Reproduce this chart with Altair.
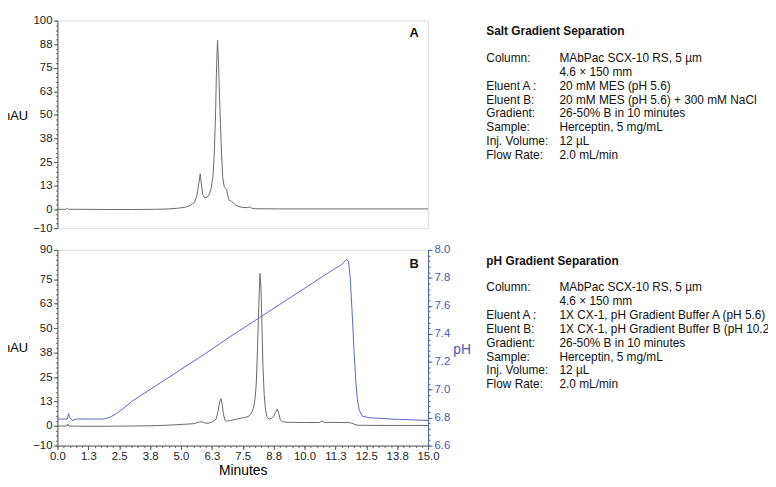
import altair as alt
import pandas as pd

# ---------------- data ----------------
salt_time = [0.0, 0.35, 0.4, 0.45, 1.0, 2.0, 3.0, 4.0, 4.5, 4.9,
             5.2, 5.4, 5.55, 5.65, 5.72, 5.78, 5.83, 5.88, 5.95, 6.05,
             6.15, 6.23, 6.3, 6.35, 6.4, 6.44, 6.48, 6.52, 6.56, 6.6,
             6.64, 6.69, 6.75, 6.8, 6.85, 6.9, 6.95, 7.05, 7.2, 7.35,
             7.5, 7.7, 7.8, 7.86, 8.0, 9.0, 12.0, 15.0]
salt_mau = [0.0, 0.0, 0.5, 0.0, 0.0, -0.1, -0.1, 0.0, 0.2, 0.6,
            1.2, 2.2, 3.8, 7.5, 13.5, 18.8, 13.0, 8.0, 6.3, 6.3,
            8.0, 11.5, 18.0, 30.0, 50.0, 75.0, 89.5, 78.0, 60.0, 45.0,
            30.0, 17.0, 12.0, 11.0, 10.5, 7.0, 4.8, 4.2, 2.4, 1.4,
            1.0, 0.9, 1.3, 0.6, 0.3, 0.2, 0.2, 0.2]

uv_time = [0.0, 0.38, 0.42, 0.46, 1.0, 2.0, 3.0, 4.0, 4.6, 5.0,
           5.5, 5.75, 5.85, 5.95, 6.1, 6.3, 6.42, 6.5, 6.57, 6.62,
           6.67, 6.72, 6.78, 6.85, 7.0, 7.2, 7.4, 7.6, 7.75, 7.85,
           7.93, 8.0, 8.05, 8.1, 8.15, 8.2, 8.24, 8.28, 8.32, 8.37,
           8.42, 8.48, 8.56, 8.65, 8.75, 8.83, 8.9, 8.96, 9.02, 9.1,
           9.3, 10.0, 10.6, 10.7, 10.8, 11.5, 11.85, 12.0, 12.15, 13.0,
           15.0]
uv_mau = [0.0, 0.0, 1.0, 0.0, -0.1, -0.1, 0.0, 0.2, 0.5, 0.8,
          1.2, 2.0, 2.2, 1.6, 1.4, 2.3, 3.5, 7.5, 12.5, 14.0,
          11.0, 6.0, 3.0, 2.5, 2.8, 3.4, 3.9, 4.4, 5.0, 6.5,
          9.0, 14.0, 22.0, 40.0, 62.0, 78.0, 70.0, 50.0, 30.0, 16.0,
          8.5, 4.8, 3.6, 3.8, 5.0, 7.0, 8.6, 6.5, 3.2, 2.2,
          1.9, 1.8, 1.8, 2.5, 1.9, 1.8, 1.7, 1.0, 0.4, 0.3,
          0.3]

ph_time = [0.0, 0.4, 0.45, 0.5, 0.6, 0.8, 1.5, 1.85, 2.1, 2.4,
           2.7, 3.0, 4.0, 5.0, 6.0, 7.0, 8.0, 9.0, 10.0, 11.0,
           11.5, 11.7, 11.78, 11.85, 11.92, 12.0, 12.07, 12.14, 12.22, 12.35,
           12.6, 13.5, 15.0]
ph_value = [6.79, 6.79, 6.83, 6.80, 6.78, 6.79, 6.79, 6.79, 6.80, 6.83,
            6.87, 6.915, 7.03, 7.145, 7.26, 7.38, 7.495, 7.61, 7.725, 7.84,
            7.895, 7.93, 7.92, 7.80, 7.58, 7.30, 7.08, 6.93, 6.85, 6.81,
            6.80, 6.79, 6.78]

# axis ticks
x_ticks = [0, 1.25, 2.5, 3.75, 5, 6.25, 7.5, 8.75, 10, 11.25, 12.5, 13.75, 15]
x_minor = [i * 0.25 for i in range(61)]
top_y_ticks = [-10, 0, 12.5, 25, 37.5, 50, 62.5, 75, 87.5, 100]
top_y_minor = [-10 + 2.5 * i for i in range(45)]
bot_y_ticks = [-10, 0, 12.5, 25, 37.5, 50, 62.5, 75, 90]
bot_y_minor = [-10 + 2.5 * i for i in range(41)]
ph_ticks = [6.6, 6.8, 7.0, 7.2, 7.4, 7.6, 7.8, 8.0]
ph_minor = [round(6.6 + 0.04 * i, 2) for i in range(36)]

# text blocks
panel_letters = ["A", "B"]
salt_title = "Salt Gradient Separation"
ph_title = "pH Gradient Separation"
info_labels = ["Column:", "", "Eluent A :", "Eluent B:", "Gradient:",
               "Sample:", "Inj. Volume:", "Flow Rate:"]
salt_values = ["MAbPac SCX-10 RS, 5 µm", "4.6 × 150 mm", "20 mM MES (pH 5.6)",
               "20 mM MES (pH 5.6) + 300 mM NaCl", "26-50%  B in 10 minutes",
               "Herceptin, 5 mg/mL", "12 µL", "2.0 mL/min"]
ph_values = ["MAbPac SCX-10 RS, 5 µm", "4.6 × 150 mm",
             "1X CX-1, pH Gradient Buffer A (pH 5.6)",
             "1X CX-1, pH Gradient Buffer B (pH 10.2)",
             "26-50%  B in 10 minutes", "Herceptin, 5 mg/mL", "12 µL", "2.0 mL/min"]

# ---------------- style ----------------
FONT = "Liberation Sans"
GRAY = "#686868"
BLUE = "#5868c0"
AXBLUE = "#4a5aae"
W = 375
H_TOP = 210
H_BOT = 198
LH = 14          # line height of the info blocks
INFO_X = 434
VAL_X = 508
FIRST_Y = 42

df_salt = pd.DataFrame({"t": salt_time, "v": salt_mau})
df_uv = pd.DataFrame({"t": uv_time, "v": uv_mau})
df_ph = pd.DataFrame({"t": ph_time, "v": ph_value})
one = pd.DataFrame({"k": [0]})

xscale = alt.Scale(domain=[0, 15], nice=False, zero=False)
top_ys = alt.Scale(domain=[-10, 100], nice=False, zero=False)
bot_ys = alt.Scale(domain=[-10, 90], nice=False, zero=False)
ph_ys = alt.Scale(domain=[6.6, 8.0], nice=False, zero=False)

common = dict(grid=False, domainColor="#555", tickColor="#555", labelColor="#222",
              labelFont=FONT, labelFontSize=11.5, tickSize=4, titleFont=FONT,
              titleFontWeight="normal", titleColor="#000")


def minor_axis(orient, values, color="#666"):
    return alt.Axis(orient=orient, values=values, labels=False, tickSize=2,
                    domain=False, title=None, grid=False, tickColor=color)


def text_layer(txt, x, y, size=12, weight="normal", baseline="middle",
               align="left", line_height=LH):
    return alt.Chart(one).mark_text(
        font=FONT, fontSize=size, fontWeight=weight, align=align,
        baseline=baseline, lineHeight=line_height, color="#111"
    ).encode(x=alt.value(x), y=alt.value(y), text=alt.value(txt))


def info_block(title, labels, values):
    # labels: first line alone, then the rest after the (empty) second line
    return [
        text_layer(title, INFO_X, 11, weight="bold"),
        text_layer(labels[0], INFO_X, FIRST_Y, baseline="alphabetic"),
        text_layer(labels[2:], INFO_X, FIRST_Y + 2 * LH, baseline="alphabetic"),
        text_layer(values, VAL_X, FIRST_Y, baseline="alphabetic"),
    ]


# ---------------- top panel ----------------
salt_line = alt.Chart(df_salt).mark_line(color=GRAY, strokeWidth=1).encode(
    x=alt.X("t:Q", scale=xscale, axis=None),
    y=alt.Y("v:Q", scale=top_ys, axis=alt.Axis(
        orient="left", values=top_y_ticks, format=".0f", title="mAU",
        titleAngle=0, titleAlign="left", titleBaseline="middle",
        titleX=-59, titleY=96, titleFontSize=13, labelPadding=1.5,
        labelOverlap=False, **common)),
)
salt_minor = alt.Chart(df_salt).mark_line(opacity=0).encode(
    x=alt.X("t:Q", scale=xscale, axis=None),
    y=alt.Y("v:Q", scale=top_ys, axis=minor_axis("left", top_y_minor)),
)

top = alt.layer(
    salt_line, salt_minor,
    text_layer(panel_letters[0], 361, 13, size=13, weight="bold", align="center"),
    *info_block(salt_title, info_labels, salt_values),
).resolve_axis(y="independent").properties(width=W, height=H_TOP)

# ---------------- bottom panel ----------------
uv_line = alt.Chart(df_uv).mark_line(color=GRAY, strokeWidth=1).encode(
    x=alt.X("t:Q", scale=xscale, axis=alt.Axis(
        orient="bottom", values=x_ticks, format=".1f", title="Minutes",
        titleFontSize=14, titlePadding=1.5, labelFlush=False, labelPadding=1,
        labelOverlap=False, **common)),
    y=alt.Y("v:Q", scale=bot_ys, axis=alt.Axis(
        orient="left", values=bot_y_ticks, format=".0f", title="mAU",
        titleAngle=0, titleAlign="left", titleBaseline="middle",
        titleX=-59, titleY=99, titleFontSize=13, labelPadding=1.5,
        labelOverlap=False, **common)),
)
uv_minor = alt.Chart(df_uv).mark_line(opacity=0).encode(
    x=alt.X("t:Q", scale=xscale, axis=minor_axis("bottom", x_minor)),
    y=alt.Y("v:Q", scale=bot_ys, axis=minor_axis("left", bot_y_minor)),
)
ph_common = dict(common)
ph_common.update(domainColor=AXBLUE, tickColor=AXBLUE, labelColor=AXBLUE,
                 titleColor=AXBLUE)
ph_line = alt.Chart(df_ph).mark_line(color=BLUE, strokeWidth=1).encode(
    x=alt.X("t:Q", scale=xscale, axis=None),
    y=alt.Y("v:Q", scale=ph_ys, axis=alt.Axis(
        orient="right", values=ph_ticks, format=".1f", title="pH",
        titleAngle=0, titleAlign="left", titleBaseline="middle",
        titleX=25, titleY=101, titleFontSize=14, labelPadding=2,
        labelOverlap=False, **ph_common)),
)
ph_minor_l = alt.Chart(df_ph).mark_line(opacity=0).encode(
    x=alt.X("t:Q", scale=xscale, axis=None),
    y=alt.Y("v:Q", scale=ph_ys, axis=minor_axis("right", ph_minor, AXBLUE)),
)

bottom = alt.layer(
    uv_line, uv_minor, ph_line, ph_minor_l,
    text_layer(panel_letters[1], 361, 14, size=13, weight="bold", align="center"),
    *info_block(ph_title, info_labels, ph_values),
).resolve_scale(y="independent").resolve_axis(
    x="independent", y="independent").properties(width=W, height=H_BOT)

chart = alt.vconcat(top, bottom, spacing=22, bounds="flush").properties(
    padding={"left": -10, "top": 3, "right": -7, "bottom": -4.5},
    background="white",
).configure_view(stroke="#555", strokeWidth=1).configure(font=FONT)

chart.save("out.html", embed_options={"renderer": "svg", "actions": False})
